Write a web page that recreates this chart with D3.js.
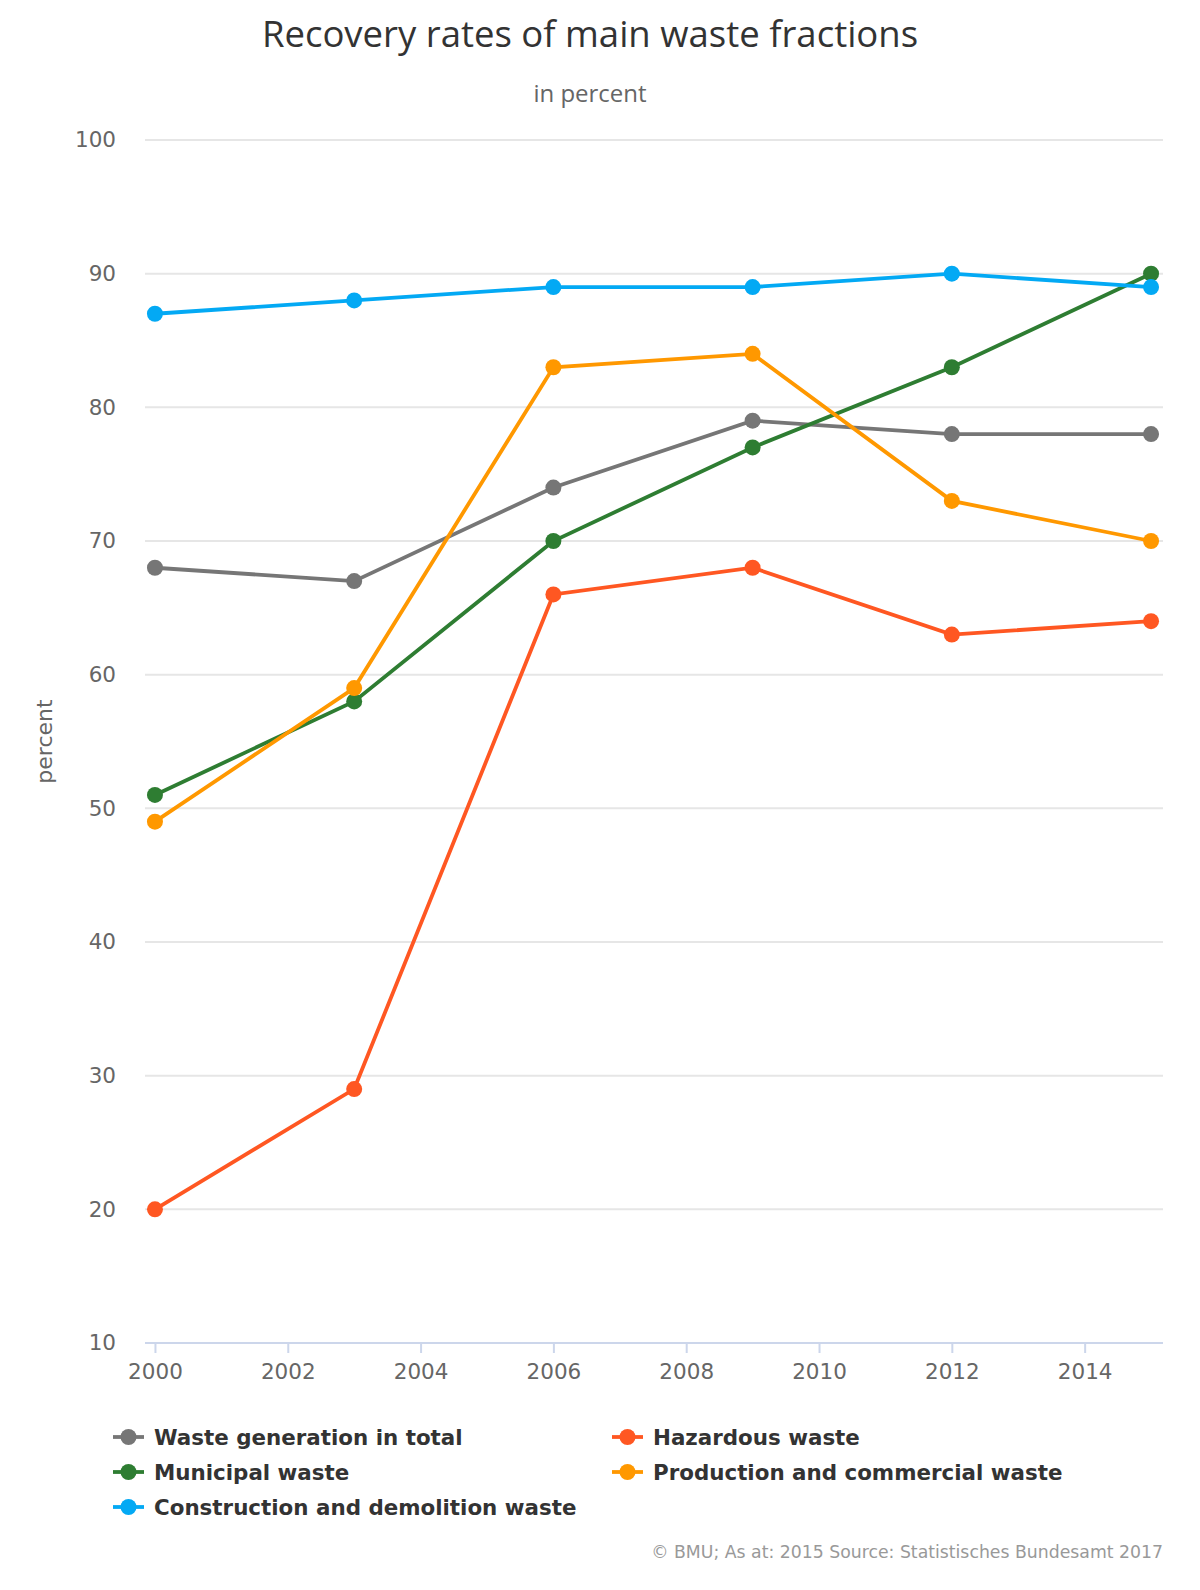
<!DOCTYPE html>
<html><head><meta charset="utf-8">
<script src="https://cdn.jsdelivr.net/npm/d3@7/dist/d3.min.js"></script>
<style>body{margin:0;background:#fff}svg{display:block}</style>
</head><body>
<svg id="c" width="1200" height="1590"></svg>
<script>
const years = [2000, 2003, 2006, 2009, 2012, 2015];
const seriesNames = ["Waste generation in total", "Hazardous waste", "Municipal waste", "Production and commercial waste", "Construction and demolition waste"];
const wasteTotal = [68, 67, 74, 79, 78, 78];
const hazardous = [20, 29, 66, 68, 63, 64];
const municipal = [51, 58, 70, 77, 83, 90];
const production = [49, 59, 83, 84, 73, 70];
const construction = [87, 88, 89, 89, 90, 89];
const colors = ["#767676", "#ff5722", "#2e7d32", "#ff9800", "#03a9f4"];
const yTicks = [10, 20, 30, 40, 50, 60, 70, 80, 90, 100];
const xTicks = [2000, 2002, 2004, 2006, 2008, 2010, 2012, 2014];

(function () {
const series = [wasteTotal, hazardous, municipal, production, construction].map((v, i) => ({name: seriesNames[i], values: v, color: colors[i]}));

const svg = d3.select("#c");
const font = "'DejaVu Sans', sans-serif";
const pLeft = 145, pRight = 1163, pTop = 140, pBottom = 1343;
const x = d3.scaleLinear().domain([1999.85, 2015.18]).range([pLeft, pRight]);
const y = d3.scaleLinear().domain([10, 100]).range([pBottom, pTop]);

svg.append("text").attr("x", 590).attr("y", 47).attr("text-anchor", "middle")
  .attr("font-family", "'Open Sans', sans-serif").attr("font-size", 36.5).attr("fill", "#333")
  .text("Recovery rates of main waste fractions");
svg.append("text").attr("x", 590).attr("y", 102).attr("text-anchor", "middle")
  .attr("font-family", "'Open Sans', sans-serif").attr("font-size", 24).attr("fill", "#666")
  .text("in percent");

// grid
svg.append("g").selectAll("line").data(yTicks.filter(d => d > 10)).join("line")
  .attr("x1", pLeft).attr("x2", pRight).attr("y1", d => y(d)).attr("y2", d => y(d))
  .attr("stroke", "#e6e6e6").attr("stroke-width", 2);

// y axis labels
const yAxis = d3.axisLeft(y).tickValues(yTicks).tickSize(0).tickPadding(29);
const gy = svg.append("g").attr("transform", `translate(${pLeft},0)`).call(yAxis);
gy.select(".domain").remove();
gy.selectAll("text").attr("font-family", font).attr("font-size", 21.5).attr("fill", "#666");

// x axis
const xAxis = d3.axisBottom(x).tickValues(xTicks).tickFormat(d3.format("d")).tickSize(10).tickPadding(11);
const gx = svg.append("g").attr("transform", `translate(0,${pBottom})`).call(xAxis);
gx.select(".domain").attr("stroke", "#ccd6eb").attr("stroke-width", 2).attr("d", `M${pLeft},0H${pRight}`);
gx.selectAll(".tick line").attr("stroke", "#ccd6eb").attr("stroke-width", 2);
gx.selectAll("text").attr("font-family", font).attr("font-size", 21.5).attr("fill", "#666");

svg.append("text").attr("transform", `translate(52,${(pTop + pBottom) / 2}) rotate(-90)`)
  .attr("text-anchor", "middle").attr("font-family", font).attr("font-size", 22).attr("fill", "#666")
  .text("percent");

const line = d3.line().x((d, i) => x(years[i])).y(d => y(d));
series.forEach(s => {
  const g = svg.append("g");
  g.append("path").attr("d", line(s.values)).attr("fill", "none").attr("stroke", s.color).attr("stroke-width", 3.8);
  g.selectAll("circle").data(s.values).join("circle")
    .attr("cx", (d, i) => x(years[i])).attr("cy", d => y(d)).attr("r", 8).attr("fill", s.color);
});

// legend
const legPos = [[113, 1437], [612, 1437], [113, 1472], [612, 1472], [113, 1507]];
series.forEach((s, i) => {
  const [lx, ly] = legPos[i];
  const g = svg.append("g").attr("transform", `translate(${lx},${ly})`);
  g.append("line").attr("x1", 0).attr("x2", 31).attr("y1", 0).attr("y2", 0).attr("stroke", s.color).attr("stroke-width", 3.8);
  g.append("circle").attr("cx", 15.5).attr("cy", 0).attr("r", 8).attr("fill", s.color);
  g.append("text").attr("x", 41).attr("y", 8).attr("font-family", font).attr("font-weight", "bold")
    .attr("font-size", 21.4).attr("fill", "#333").text(s.name);
});

svg.append("text").attr("x", 1163).attr("y", 1558).attr("text-anchor", "end")
  .attr("font-family", font).attr("font-size", 17.3).attr("fill", "#999")
  .text("© BMU; As at: 2015 Source: Statistisches Bundesamt 2017");
})();
</script>
</body></html>
